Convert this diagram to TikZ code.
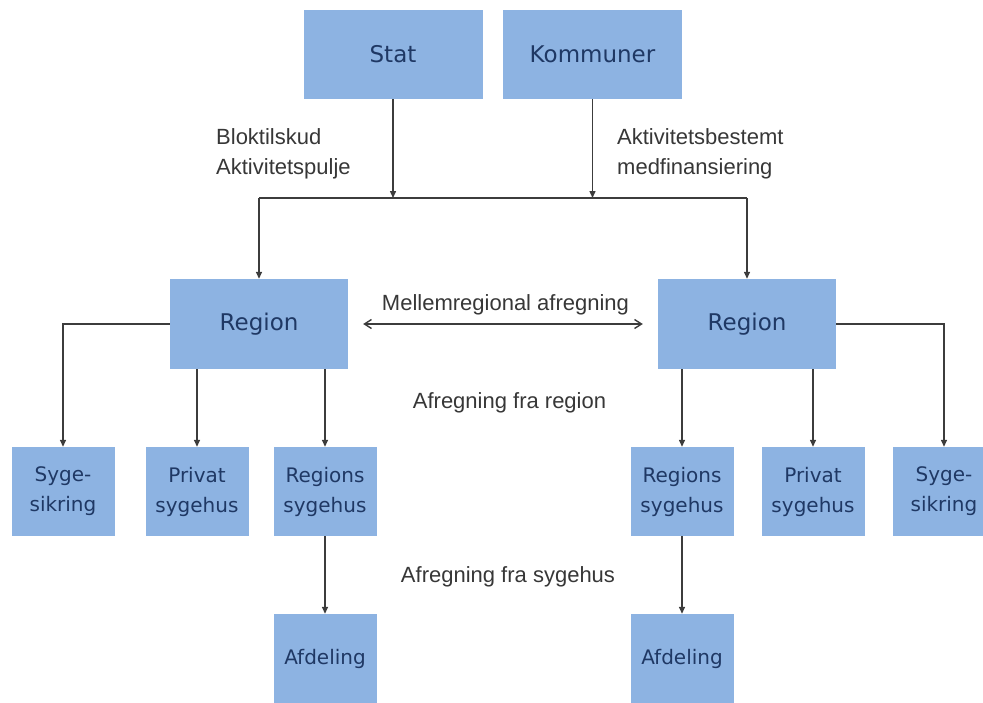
\documentclass[tikz,border=0pt]{standalone}
\usepackage{fontspec}
\setmainfont{Liberation Sans}
\newfontfamily\boxfont{DejaVu Sans}
\usetikzlibrary{arrows.meta}
\definecolor{boxblue}{RGB}{141,179,226}
\definecolor{boxtext}{RGB}{31,56,100}
\definecolor{lbltext}{RGB}{55,55,55}
\definecolor{linegray}{RGB}{60,60,60}
\tikzset{%
    box/.style={rectangle, fill=boxblue, text=boxtext, inner sep=0pt,
        minimum width=179pt, minimum height=89pt,
        font=\boxfont\fontsize{23}{28}\selectfont},
    smallbox/.style={box, minimum width=103pt, align=center,
        font=\boxfont\fontsize{20}{30}\selectfont},
    lbl/.style={text=lbltext, inner sep=0pt, align=left,
        font=\fontsize{22}{30}\selectfont},
    arr/.style={draw=linegray, line width=1.4pt,
        -{Triangle[length=7pt,width=6pt]}},
    darr/.style={draw=linegray, line width=1.4pt,
        {Straight Barb[length=7pt,width=9pt]}-{Straight Barb[length=7pt,width=9pt]}}
}

\begin{document}
\begin{tikzpicture}[x=1pt, y=-1pt]
  \useasboundingbox (0,0) rectangle (983,702);
  \clip (0,0) rectangle (983,702);

  \node (stat) [box] at (393,54.5) {Stat};
  \node (komm) [box] at (592.5,54.5) {Kommuner};
  \node (regL) [box, minimum width=178pt, minimum height=90pt] at (259,324) {Region};
  \node (regR) [box, minimum width=178pt, minimum height=90pt] at (747,324) {Region};

  \node (syL) [smallbox] at (63,491.5) {Syge-\\sikring};
  \node (prL) [smallbox] at (197,491.5) {Privat\\sygehus};
  \node (rsL) [smallbox] at (325,491.5) {Regions\\sygehus};
  \node (rsR) [smallbox] at (682,491.5) {Regions\\sygehus};
  \node (prR) [smallbox] at (813,491.5) {Privat\\sygehus};
  \node (syR) [smallbox] at (944,491.5) {Syge-\\sikring};

  \node (afL) [smallbox] at (325,658.5) {Afdeling};
  \node (afR) [smallbox] at (682,658.5) {Afdeling};

  \node (blok) [lbl, anchor=west] at (216,154) {Bloktilskud\\Aktivitetspulje};
  \node (medf) [lbl, anchor=west] at (617,154) {Aktivitetsbestemt\\medfinansiering};
  \node (mell) [lbl] at (505.5,305) {Mellemregional afregning};
  \node (afreg) [lbl] at (509.5,403) {Afregning fra region};
  \node (afsyg) [lbl] at (508,577) {Afregning fra sygehus};

  \coordinate (busL) at (259,198);
  \coordinate (busR) at (747,198);

  \draw[arr] (stat) -- (stat |- busL);
  \draw[arr] (komm) -- (komm |- busR);
  \draw[draw=linegray, line width=1.4pt] (busL) -- (busR);
  \draw[arr] (busL) -- (regL);
  \draw[arr] (busR) -- (regR);

  \draw[darr, shorten <=15pt, shorten >=15pt] (regL) -- (regR);

  \draw[arr] (regL) -| (syL);
  \draw[arr] (regL.south -| prL) -- (prL);
  \draw[arr] (regL.south -| rsL) -- (rsL);
  \draw[arr] (regR.south -| rsR) -- (rsR);
  \draw[arr] (regR.south -| prR) -- (prR);
  \draw[arr] (regR) -| (syR);

  \draw[arr] (rsL) -- (afL);
  \draw[arr] (rsR) -- (afR);
\end{tikzpicture}
\end{document}
